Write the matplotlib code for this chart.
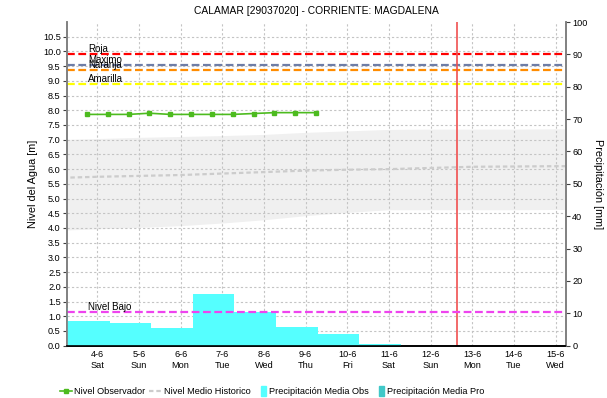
import matplotlib
matplotlib.use("Agg")
import matplotlib.pyplot as plt
import matplotlib.dates as mdates
import matplotlib.transforms as mtransforms
from matplotlib.lines import Line2D
from matplotlib.patches import Patch, Rectangle
from matplotlib.legend_handler import HandlerPatch
from datetime import datetime, timedelta

plt.rcParams['font.family'] = ['Liberation Sans', 'DejaVu Sans']
plt.rcParams['font.size'] = 6.6

# observed water level, one reading every 12 h (m)
obs_start = datetime(2016, 6, 3, 18)
obs_level = [7.86, 7.86, 7.86, 7.90, 7.86, 7.86, 7.86, 7.86, 7.89, 7.92, 7.92, 7.92]

# historical band and mean, daily values from 3 June (m)
hist_start = datetime(2016, 6, 3)
hist_min = [3.92, 3.97, 4.02, 4.08, 4.17, 4.28, 4.42, 4.53, 4.62, 4.62, 4.62, 4.62, 4.63, 4.63]
hist_max = [7.00, 7.04, 7.08, 7.11, 7.14, 7.18, 7.25, 7.30, 7.35, 7.36, 7.36, 7.36, 7.37, 7.37]
hist_mean = [5.70, 5.74, 5.77, 5.80, 5.85, 5.90, 5.95, 5.98, 6.00, 6.04, 6.08, 6.09, 6.10, 6.10]

# daily precipitation, 07:00 to 07:00 (mm)
precip_start = datetime(2016, 6, 2, 7)
precip_obs = [11.7, 7.6, 7.0, 5.5, 16.0, 10.3, 5.8, 3.6, 0.5]

# alert levels (m)
alert_names = ['Roja', 'Maximo', 'Naranja', 'Amarilla']
alert_values = [9.90, 9.53, 9.38, 8.88]
alert_colors = ['#FF0000', '#6E7DA6', '#FF8C00', '#FFFF00']
low_name = 'Nivel Bajo'
low_value = 1.15

now_time = datetime(2016, 6, 12, 15)

tick_days = [datetime(2016, 6, d) for d in range(4, 16)]
day_labels = ['4-6', '5-6', '6-6', '7-6', '8-6', '9-6', '10-6', '11-6', '12-6', '13-6', '14-6', '15-6']
weekday_labels = ['Sat', 'Sun', 'Mon', 'Tue', 'Wed', 'Thu', 'Fri', 'Sat', 'Sun', 'Mon', 'Tue', 'Wed']

obs_times = [obs_start + timedelta(hours=12 * i) for i in range(len(obs_level))]
hist_times = [hist_start + timedelta(days=i) for i in range(len(hist_min))]
precip_times = [precip_start + timedelta(days=i) for i in range(len(precip_obs))]

fig = plt.figure(figsize=(6.07, 3.98), dpi=100)
ax = fig.add_axes([67 / 607, 1 - 345.7 / 398, 499 / 607, 323.7 / 398])
ax2 = ax.twinx()

grid_kw = dict(color='#C4C4C4', linestyle=(0, (2, 2)), linewidth=0.8)
ax.set_axisbelow(True)
ax.grid(True, **grid_kw)

ax.fill_between(hist_times, hist_min, hist_max, color='#F0F0F0', linewidth=0, zorder=0.5)
ax.plot(hist_times, hist_mean, color='#CCCCCC', linewidth=1.6, linestyle=(0, (2, 1.3)))

label_x = datetime(2016, 6, 3, 18, 45)
for name, val, col in zip(alert_names, alert_values, alert_colors):
    ax.axhline(val, color=col, linewidth=1.6, linestyle=(0, (3.5, 1.6)))
    ax.text(label_x, val, name, ha='left', va='bottom', fontsize=7)

ax.plot(obs_times, obs_level, color='#4DBB1F', linewidth=1.2, marker='s', markersize=2.6)
ax.axvline(now_time, color='#F05050', linewidth=1.2)

# precipitation on the right axis, above the grid
ax2.bar(precip_times, precip_obs, width=1.0, align='edge', color='#55FFFF', linewidth=0)
trans = mtransforms.blended_transform_factory(ax2.transAxes, ax.transData)
ax2.plot([0, 1], [low_value, low_value], transform=trans, color='#EE44EE', linewidth=1.6,
         linestyle=(0, (3.5, 1.6)))
ax2.text(label_x, low_value, low_name, ha='left', va='bottom', fontsize=7,
         transform=mtransforms.blended_transform_factory(ax.transData, ax.transData))

xmin, xmax = datetime(2016, 6, 3, 6, 30), datetime(2016, 6, 15, 6, 0)
ax.set_xlim(xmin, xmax)
ax2.set_xlim(xmin, xmax)
ax.set_ylim(0, 11)
ax2.set_ylim(0, 100)

ax.set_yticks([i * 0.5 for i in range(22)])
ax.set_yticklabels([f'{i * 0.5:.1f}' for i in range(22)])
ax2.set_yticks(range(0, 101, 10))
ax.set_xticks(tick_days)
ax.set_xticklabels([f'{d}\n{w}' for d, w in zip(day_labels, weekday_labels)], linespacing=1.25)
ax.xaxis.set_minor_locator(mdates.HourLocator())
ax.tick_params(axis='x', which='both', length=0, pad=3)
ax.tick_params(axis='y', length=3, width=0.8, color='#404040', pad=1.5)
ax2.tick_params(axis='y', length=3, width=0.8, color='#404040', pad=1.5)

for a in (ax, ax2):
    a.spines['top'].set_visible(False)
    a.spines['left'].set_color('#808080')
    a.spines['right'].set_color('#808080')
    a.spines['left'].set_linewidth(1.2)
    a.spines['right'].set_linewidth(1.2)
    a.spines['bottom'].set_color('black')
    a.spines['bottom'].set_linestyle((0, (1, 1)))
    a.spines['bottom'].set_linewidth(1.2)

ax.set_ylabel('Nivel del Agua [m]', va='center', fontsize=7.8)
ax.yaxis.set_label_coords(-0.068, 0.5)
ax2.set_ylabel('Precipitación [mm]', rotation=270, va='center', fontsize=7.8)
ax2.yaxis.set_label_coords(1.064, 0.5)

ax.set_title('CALAMAR [29037020] - CORRIENTE: MAGDALENA', fontsize=7.4, pad=6)


def narrow_patch(legend, orig_handle, xdescent, ydescent, width, height, fontsize):
    return Rectangle((width - xdescent - 0.55 * fontsize, -ydescent - 1.5), 0.55 * fontsize, height + 3)


handles = [
    Line2D([], [], color='#4DBB1F', linewidth=1.2, marker='s', markersize=2.6),
    Line2D([], [], color='#CCCCCC', linewidth=1.6, linestyle=(0, (2, 1.3))),
    Patch(color='#55FFFF'),
    Patch(color='#40C8C8'),
]
labels = ['Nivel Observador', 'Nivel Medio Historico', 'Precipitación Media Obs', 'Precipitación Media Pro']
fig.legend(handles, labels, loc='center', bbox_to_anchor=(272 / 607, 1 - 391.5 / 398), ncol=4,
           frameon=False, handlelength=1.3, handletextpad=0.3, columnspacing=0.4,
           handler_map={Patch: HandlerPatch(patch_func=narrow_patch)})

fig.savefig('out.png', dpi=100)
